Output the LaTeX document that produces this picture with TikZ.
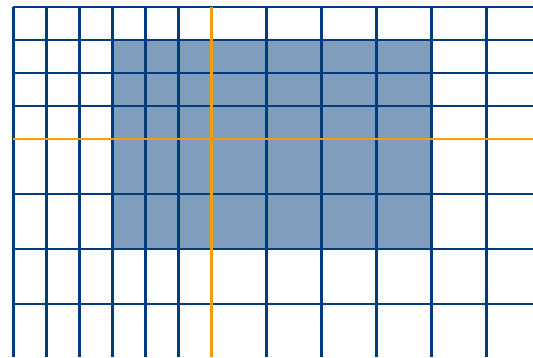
\documentclass[tikz,border=0pt]{standalone}
\usepackage{tikz}

\definecolor{gridblue}{RGB}{0,60,125}
\definecolor{cutorange}{RGB}{242,158,10}

\begin{document}
\begin{tikzpicture}[
  gridline/.style={draw=gridblue, line width=1.5pt},
  cutline/.style={draw=cutorange, line width=1.5pt},
  region/.style={fill=gridblue!50}
]
\useasboundingbox (-0.245, 0.127) rectangle (9.445, -6.364);

% Shaded block
\path[region] (1.8, -0.6) rectangle (7.6, -4.4);

% Fine columns (left)
\draw[gridline] (0, 0) -- (0, -6.364);
\draw[gridline] (0.6, 0) -- (0.6, -6.364);
\draw[gridline] (1.2, 0) -- (1.2, -6.364);
\draw[gridline] (1.8, 0) -- (1.8, -6.364);
\draw[gridline] (2.4, 0) -- (2.4, -6.364);
\draw[gridline] (3.0, 0) -- (3.0, -6.364);

% Coarse columns (right)
\draw[gridline] (4.6, 0) -- (4.6, -6.364);
\draw[gridline] (5.6, 0) -- (5.6, -6.364);
\draw[gridline] (6.6, 0) -- (6.6, -6.364);
\draw[gridline] (7.6, 0) -- (7.6, -6.364);
\draw[gridline] (8.6, 0) -- (8.6, -6.364);

% Fine rows (top)
\draw[gridline] (0, 0) -- (9.445, 0);
\draw[gridline] (0, -0.6) -- (9.445, -0.6);
\draw[gridline] (0, -1.2) -- (9.445, -1.2);
\draw[gridline] (0, -1.8) -- (9.445, -1.8);

% Coarse rows (bottom)
\draw[gridline] (0, -3.4) -- (9.445, -3.4);
\draw[gridline] (0, -4.4) -- (9.445, -4.4);
\draw[gridline] (0, -5.4) -- (9.445, -5.4);

% Interface lines
\draw[cutline] (3.6, 0) -- (3.6, -6.364);
\draw[cutline] (0, -2.4) -- (9.445, -2.4);

\end{tikzpicture}
\end{document}
